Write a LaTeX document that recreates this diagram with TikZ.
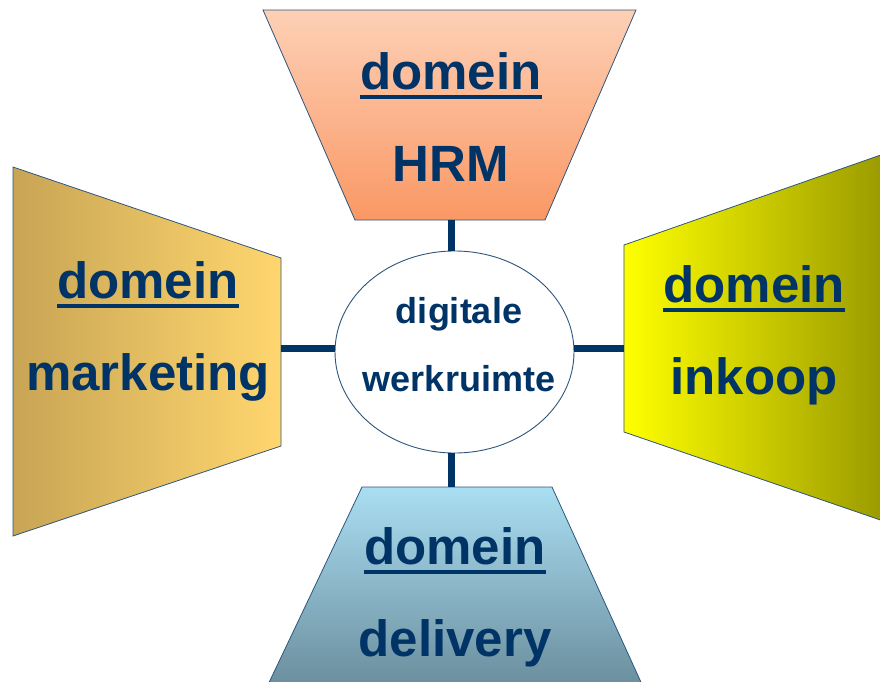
\documentclass[tikz,border=0pt]{standalone}
\usepackage{fontspec}
\setmainfont{Liberation Sans}
\usetikzlibrary{shapes.geometric}
\definecolor{navy}{RGB}{0,51,102}
\definecolor{edgeblue}{RGB}{45,85,125}
\definecolor{hrmtop}{RGB}{253,208,182}
\definecolor{hrmbot}{RGB}{250,152,100}
\definecolor{mktleft}{RGB}{200,165,85}
\definecolor{mktright}{RGB}{255,214,110}
\definecolor{inkleft}{RGB}{255,255,0}
\definecolor{inkright}{RGB}{150,150,0}
\definecolor{deltop}{RGB}{170,222,242}
\definecolor{delbot}{RGB}{105,140,155}
\newcommand\domul[1]{\setbox0=\hbox{#1}\rlap{\rule[-9.5pt]{\wd0}{3.5pt}}\box0}

\begin{document}
\begin{tikzpicture}[x=1pt,y=-1pt]
	\tikzstyle{every node}+=[inner sep=0pt]
	\tikzstyle{domshape}=[draw=edgeblue, line width=0.8pt]
	\tikzstyle{domtext}=[text=navy, font=\bfseries\fontsize{51}{92}\selectfont, align=center]
	\tikzstyle{conn}=[navy, line width=7pt]
	\clip (0,0) rectangle (880,681);
	% domein HRM
	\path[domshape, top color=hrmtop, bottom color=hrmbot] (263,10) -- (636,10) -- (545,220) -- (355,220) -- cycle;
	\coordinate (hrmb) at (451,220);
	\node[domtext] (hrm) at (451,117) {\domul{domein}\\HRM};
	% domein marketing
	\path[domshape, left color=mktleft, right color=mktright] (13,167) -- (281,258) -- (281,446) -- (13,536) -- cycle;
	\coordinate (mktr) at (281,348);
	\node[domtext] (mkt) at (148,331) {\domul{domein}\\marketing};
	% domein inkoop
	\path[domshape, left color=inkleft, right color=inkright] (624,245) -- (895,150) -- (895,525) -- (624,432) -- cycle;
	\coordinate (inkl) at (624,348);
	\node[domtext] (ink) at (754,335) {\domul{domein}\\inkoop};
	% domein delivery
	\path[domshape, top color=deltop, bottom color=delbot] (362,487) -- (552,487) -- (645,691) -- (265,691) -- cycle;
	\coordinate (delt) at (451,487);
	\node[domtext] (del) at (455,597) {\domul{domein}\\delivery};
	% digitale werkruimte
	\node[ellipse, draw=edgeblue, line width=0.9pt, fill=white, minimum width=239pt, minimum height=202pt] (ws) at (454.5,352) {};
	\node[text=navy, font=\bfseries\fontsize{36}{68}\selectfont, align=center] (wstext) at (459,345) {digitale\\werkruimte};
	% verbindingen
	\draw[conn] (hrmb) -- (hrmb |- ws.north);
	\draw[conn] (delt) -- (delt |- ws.south);
	\draw[conn] (mktr) -- (mktr -| ws.west);
	\draw[conn] (inkl) -- (inkl -| ws.east);
\end{tikzpicture}
\end{document}
